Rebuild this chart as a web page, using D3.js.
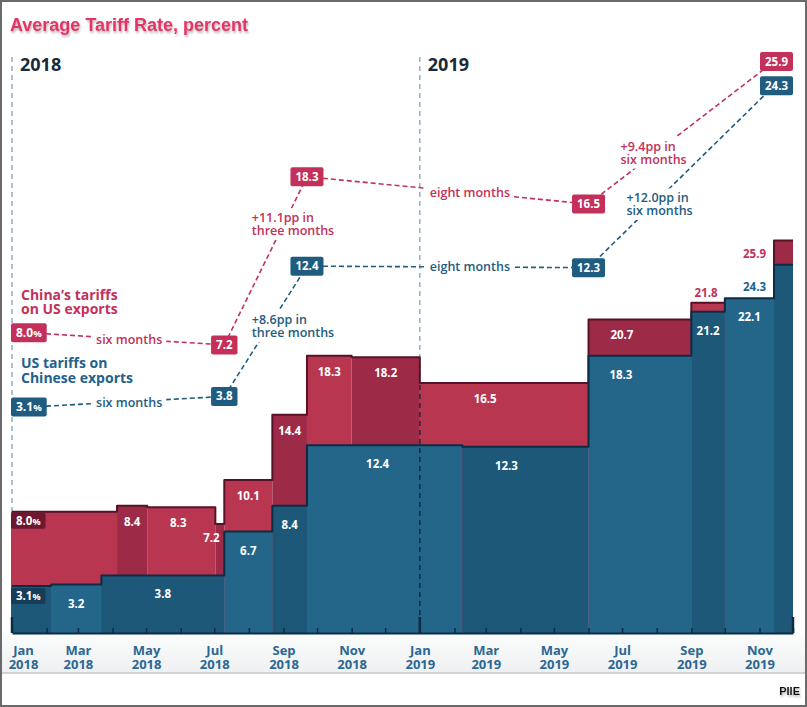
<!DOCTYPE html>
<html lang="en">
<head>
    <meta charset="UTF-8">
    <title>Average Tariff Rate</title>
    <script src="https://d3js.org/d3.v7.min.js"></script>
    <style>
        body { margin: 0; background: #fff; }
        svg { display: block; font-family: "Open Sans", sans-serif; }
    </style>
</head>
<body>

<svg width="807" height="707"></svg>

<script>

    // data: step changes in average tariff rates (percent)
    var usDates = ["2018-01-01", "2018-02-05", "2018-03-22", "2018-07-10", "2018-08-22", "2018-09-22",
                   "2019-02-08", "2019-06-01", "2019-09-01", "2019-10-01", "2019-11-14"];
    var usRates = [3.1, 3.2, 3.8, 6.7, 8.4, 12.4, 12.3, 18.3, 21.2, 22.1, 24.3];

    var cnDates = ["2018-01-01", "2018-04-05", "2018-05-02", "2018-07-02", "2018-07-10", "2018-08-22",
                   "2018-09-22", "2018-11-01", "2019-01-01", "2019-06-01", "2019-09-01", "2019-11-14"];
    var cnRates = [8.0, 8.4, 8.3, 7.2, 10.1, 14.4, 18.3, 18.2, 16.5, 20.7, 21.8, 25.9];

    var endDate = "2019-12-01";

    // summary (top) annotations
    var sumDates = ["2018-01-01", "2018-07-10", "2018-09-22", "2019-06-01", "2019-11-14"];
    var cnSum = [8.0, 7.2, 18.3, 16.5, 25.9];
    var usSum = [3.1, 3.8, 12.4, 12.3, 24.3];
    var cnSumNotes = ["six months", "+11.1pp in|three months", "eight months", "+9.4pp in|six months"];
    var usSumNotes = ["six months", "+8.6pp in|three months", "eight months", "+12.0pp in|six months"];

    var yearLabels = ["2018", "2019"];

    // colours
    var redLight = "#b8364f", redDark = "#9d2b48", redLine = "#561327", redText = "#c3315a";
    var blueLight = "#246689", blueDark = "#1d5879", blueLine = "#0d2c44", blueText = "#22618c";

    var svg = d3.select("svg");
    var parse = d3.timeParse("%Y-%m-%d");

    var x = d3.scaleTime()
        .domain([parse("2018-01-01"), parse(endDate)])
        .range([12, 793]);
    var y = d3.scaleLinear().domain([0, 26]).range([633, 633 - 26 * 15.15]);
    var yTop = d3.scaleLinear().domain([0, 26]).range([454, 454 - 26 * 15.15]);

    var defs = svg.append("defs");
    var sh = defs.append("filter").attr("id", "shadow").attr("x", "-5%").attr("y", "-30%").attr("width", "110%").attr("height", "170%");
    sh.append("feDropShadow").attr("dx", 1).attr("dy", 2).attr("stdDeviation", 1.2)
        .attr("flood-color", "#777").attr("flood-opacity", 0.55);
    var gr = defs.append("linearGradient").attr("id", "band").attr("x1", 0).attr("y1", 0).attr("x2", 0).attr("y2", 1);
    gr.append("stop").attr("offset", "0%").attr("stop-color", "#fbfcfc");
    gr.append("stop").attr("offset", "100%").attr("stop-color", "#eef0f1");

    //outer frame
    svg.append("rect").attr("x", 1).attr("y", 1).attr("width", 805).attr("height", 705)
        .attr("fill", "#fff").attr("stroke", "#6a6a6a").attr("stroke-width", 2);

    // axis label band
    svg.append("rect").attr("x", 2).attr("y", 634).attr("width", 803).attr("height", 39)
        .attr("fill", "url(#band)");
    svg.append("line").attr("x1", 2).attr("x2", 805).attr("y1", 673).attr("y2", 673)
        .attr("stroke", "#c4c6c8").attr("stroke-width", 1.5);

    // title
    svg.append("text").attr("x", 10).attr("y", 31)
        .attr("font-family", "'Liberation Sans', Arial, sans-serif")
        .attr("font-size", 18).attr("font-weight", 700).attr("fill", "#e63366")
        .attr("filter", "url(#shadow)")
        .text("Average Tariff Rate, percent");

    // year dividers
    var yearStarts = [parse("2018-01-01"), parse("2019-01-01")];
    svg.append("g").selectAll("line").data(yearStarts).enter().append("line")
        .attr("x1", function (d) { return x(d); })
        .attr("x2", function (d) { return x(d); })
        .attr("y1", 57).attr("y2", 633)
        .attr("stroke", "#8fb0c6").attr("stroke-width", 1.5).attr("stroke-dasharray", "5,4");
    svg.append("g").selectAll("text").data(yearStarts).enter().append("text")
        .attr("x", function (d) { return x(d) + 8; })
        .attr("y", 71)
        .attr("font-size", 18).attr("font-weight", 700).attr("fill", "#1b2a3a")
        .text(function (d, i) { return yearLabels[i]; });

    // step segments
    function segments(dates, rates) {
        return rates.map(function (v, i) {
            return {
                v: v, i: i,
                x0: x(parse(dates[i])),
                x1: x(parse(i + 1 < dates.length ? dates[i + 1] : endDate))
            };
        });
    }
    var cnSeg = segments(cnDates, cnRates);
    var usSeg = segments(usDates, usRates);

    // US rate in force at a pixel position
    function usAt(px) {
        var r = usSeg[0].v;
        usSeg.forEach(function (s) { if (s.x0 <= px + 0.5) r = s.v; });
        return r;
    }

    var stepLine = d3.line().curve(d3.curveStepAfter)
        .x(function (d) { return d[0]; })
        .y(function (d) { return d[1]; });

    function outline(segs) {
        var pts = segs.map(function (s) { return [s.x0, y(s.v)]; });
        var last = segs[segs.length - 1];
        pts.push([last.x1, y(last.v)]);
        return pts;
    }

    var bars = svg.append("g");

    // China (drawn behind)
    bars.append("g").selectAll("rect").data(cnSeg).enter().append("rect")
        .attr("x", function (d) { return d.x0 - (d.i === 0 ? 1 : 0); })
        .attr("width", function (d) { return d.x1 - d.x0 + (d.i === 0 ? 1 : 0); })
        .attr("y", function (d) { return y(d.v); })
        .attr("height", function (d) { return y(0) - y(d.v); })
        .attr("fill", function (d) { return d.i % 2 ? redDark : redLight; });
    bars.append("path").attr("d", stepLine(outline(cnSeg)))
        .attr("fill", "none").attr("stroke", redLine).attr("stroke-width", 2).attr("stroke-linejoin", "round");

    // US (drawn in front)
    bars.append("g").selectAll("rect").data(usSeg).enter().append("rect")
        .attr("x", function (d) { return d.x0 - (d.i === 0 ? 1 : 0); })
        .attr("width", function (d) { return d.x1 - d.x0 + (d.i === 0 ? 1 : 0); })
        .attr("y", function (d) { return y(d.v); })
        .attr("height", function (d) { return y(0) - y(d.v); })
        .attr("fill", function (d) { return d.i % 2 ? blueLight : blueDark; });
    bars.append("path").attr("d", stepLine(outline(usSeg)))
        .attr("fill", "none").attr("stroke", blueLine).attr("stroke-width", 2).attr("stroke-linejoin", "round");

    // dark dashed year line over the bars
    svg.append("line")
        .attr("x1", x(yearStarts[1])).attr("x2", x(yearStarts[1]))
        .attr("y1", y(16.5) + 2).attr("y2", 633)
        .attr("stroke", "#0f2d44").attr("stroke-width", 1.5).attr("stroke-dasharray", "5,4");

    // axes: month ticks pointing up, labels every two months
    var tickAxis = svg.append("g").attr("transform", "translate(0,633)")
        .call(d3.axisTop(x).ticks(d3.timeMonth.every(1)).tickSize(5).tickSizeOuter(0));
    tickAxis.selectAll(".tick text").remove();
    tickAxis.select(".domain").attr("stroke", blueLine).attr("stroke-width", 2);
    tickAxis.selectAll(".tick line").attr("stroke", blueLine).attr("stroke-width", 1.5);

    svg.append("g").selectAll("line")
        .data([parse("2018-01-01"), parse("2019-01-01"), parse(endDate)])
        .enter().append("line")
        .attr("x1", function (d) { return x(d); }).attr("x2", function (d) { return x(d); })
        .attr("y1", 617).attr("y2", 633)
        .attr("stroke", blueLine).attr("stroke-width", 2.5);

    var labAxis = svg.append("g").attr("transform", "translate(0,633)")
        .call(d3.axisBottom(x).ticks(d3.timeMonth.every(2)).tickSize(0));
    labAxis.select(".domain").remove();
    labAxis.selectAll(".tick text").remove();
    var fmtM = d3.timeFormat("%b"), fmtY = d3.timeFormat("%Y");
    labAxis.selectAll(".tick").each(function (d) {
        var px = x(d);
        var dx = px - 15 < 8 ? 8 + 15 - px : 0;
        var t = d3.select(this).append("text")
            .attr("fill", "#2b6793").attr("font-size", 13).attr("font-weight", 700)
            .attr("text-anchor", "middle").attr("font-family", "'Open Sans', sans-serif");
        t.append("tspan").attr("x", dx).attr("y", 22).text(fmtM(d));
        t.append("tspan").attr("x", dx).attr("y", 36).text(fmtY(d));
    });

    // helpers for labels
    function addText(g, txt, size, weight, fill) {
        var t = g.append("text").attr("font-size", size).attr("font-weight", weight)
            .attr("fill", fill).attr("dy", "0.35em");
        if (txt.slice(-1) === "%") {
            t.append("tspan").text(txt.slice(0, -1));
            t.append("tspan").attr("font-size", size - 2.5).text("%");
        } else {
            t.text(txt);
        }
        return t;
    }

    function boxLabel(g, cx, cy, txt, fill, align, h, size) {
        var grp = g.append("g");
        var rect = grp.append("rect").attr("fill", fill).attr("rx", 2);
        var t = addText(grp, txt, size || 11.5, 700, "#fff").attr("text-anchor", "middle");
        var w = t.node().getComputedTextLength() + 10;
        h = h || 19;
        var bx = cx - w / 2;
        if (align === "start") bx = cx;
        if (align === "end") bx = cx - w;
        rect.attr("x", bx).attr("y", cy - h / 2).attr("width", w).attr("height", h);
        t.attr("x", bx + w / 2).attr("y", cy);
    }

    // bar value labels
    var labels = svg.append("g");
    var cnShift = {2: -3, 8: -19, 9: -18};
    var usShift = {5: -7, 6: -19, 7: -19};

    cnSeg.forEach(function (s) {
        var cx = (s.x0 + s.x1) / 2 + (cnShift[s.i] || 0);
        var cy = y(s.v) + 16;
        var visible = y(usAt(s.x0)) - y(s.v);
        if (s.i === 0) {
            boxLabel(labels, s.x0 - 1, y(s.v) + 9, s.v.toFixed(1) + "%", "#6b1830", "start", 16);
        } else if (s.x1 - s.x0 < 15) {
            // too narrow: label sits to the left
            addText(labels, s.v.toFixed(1), 11.5, 700, "#fff").attr("text-anchor", "middle")
                .attr("x", s.x0 - 4).attr("y", y(s.v) + 14);
        } else if (s.i === cnSeg.length - 1) {
            addText(labels, s.v.toFixed(1), 11.5, 700, redText).attr("text-anchor", "end")
                .attr("x", s.x0 - 8).attr("y", y(s.v) + 13);
        } else if (visible < 16) {
            // thin strip: label above, over the part still visible
            var vEnd = s.x1;
            usSeg.forEach(function (u) { if (u.x0 > s.x0 && u.v >= s.v && u.x0 < vEnd) vEnd = u.x0; });
            addText(labels, s.v.toFixed(1), 11.5, 700, redText).attr("text-anchor", "middle")
                .attr("x", (s.x0 + vEnd) / 2 - 2).attr("y", y(s.v) - 10);
        } else {
            addText(labels, s.v.toFixed(1), 11.5, 700, "#fff").attr("text-anchor", "middle")
                .attr("x", cx).attr("y", cy);
        }
    });

    usSeg.forEach(function (s) {
        var cx = (s.x0 + s.x1) / 2 + (usShift[s.i] || 0);
        var cy = y(s.v) + 19;
        if (s.i === 0) {
            boxLabel(labels, s.x0 - 1, y(s.v) + 10, s.v.toFixed(1) + "%", "#163d57", "start", 16);
        } else if (s.i === usSeg.length - 1) {
            addText(labels, s.v.toFixed(1), 11.5, 700, blueText).attr("text-anchor", "end")
                .attr("x", s.x0 - 8).attr("y", y(s.v) + 22);
        } else {
            addText(labels, s.v.toFixed(1), 11.5, 700, "#fff").attr("text-anchor", "middle")
                .attr("x", cx).attr("y", cy);
        }
    });

    // summary annotations
    var diagDx = {cn: {1: 27.5, 3: 32}, us: {1: 27.5, 3: 38}};
    var diagT = {cn: {1: 0.72, 3: 0.36}, us: {1: 0.54, 3: 0.35}};

    function summary(vals, notes, color, key) {
        var g = svg.append("g");
        var pts = vals.map(function (v, i) { return [x(parse(sumDates[i])), yTop(v)]; });
        var lineG = g.append("g");
        var noteG = g.append("g");
        var boxG = g.append("g");
        for (var i = 0; i < pts.length - 1; i++) {
            var a = pts[i], b = pts[i + 1];
            var ax0 = i === 0 ? a[0] + 18 : a[0];
            lineG.append("line").attr("x1", ax0).attr("y1", a[1]).attr("x2", b[0]).attr("y2", b[1])
                .attr("stroke", color).attr("stroke-width", 1.6).attr("stroke-dasharray", "5,3");

            var parts = notes[i].split("|");
            var nx, ny, anchor;
            if (parts.length === 1 && i === 0) {
                nx = (ax0 + b[0]) / 2 + 2; ny = (a[1] + b[1]) / 2 + 1; anchor = "middle";
            } else if (parts.length === 1) {
                nx = x(yearStarts[1]) + 10; ny = a[1] + (b[1] - a[1]) * (nx + 38 - a[0]) / (b[0] - a[0]); anchor = "start";
            } else {
                nx = a[0] + diagDx[key][i];
                ny = a[1] + (b[1] - a[1]) * diagT[key][i] - 6;
                anchor = "start";
            }
            var tg = noteG.append("g");
            var bg = tg.append("rect").attr("fill", "#fff");
            var tt = tg.append("text").attr("font-size", 12.5).attr("font-weight", 600)
                .attr("fill", color).attr("text-anchor", anchor);
            parts.forEach(function (p, k) {
                tt.append("tspan").attr("x", nx).attr("y", ny + k * 12.5).attr("dy", "0.35em").text(p);
            });
            var bb = tt.node().getBBox();
            bg.attr("x", bb.x - 4).attr("y", bb.y - 1).attr("width", bb.width + 8).attr("height", bb.height + 2);
        }
        pts.forEach(function (p, i) {
            var align = i === 0 ? "start" : (i === pts.length - 1 ? "end" : "middle");
            var px = i === 0 ? p[0] - 1 : (i === pts.length - 1 ? x(parse(endDate)) : p[0]);
            boxLabel(boxG, px, p[1], vals[i].toFixed(1) + (i === 0 ? "%" : ""), color, align, 19, i === 0 ? 12 : 11.5);
        });
    }

    summary(cnSum, cnSumNotes, redText, "cn");
    summary(usSum, usSumNotes, "#1f5c80", "us");

    // legend
    var legend = svg.append("g").attr("font-size", 14).attr("font-weight", 700);
    legend.append("text").attr("x", 21).attr("y", 300).attr("fill", redText)
        .selectAll("tspan").data(["China\u2019s tariffs", "on US exports"]).enter().append("tspan")
        .attr("x", 21).attr("dy", function (d, i) { return i ? 14 : 0; }).text(function (d) { return d; });
    legend.append("text").attr("x", 21).attr("y", 368).attr("fill", blueText)
        .selectAll("tspan").data(["US tariffs on", "Chinese exports"]).enter().append("tspan")
        .attr("x", 21).attr("dy", function (d, i) { return i ? 14.5 : 0; }).text(function (d) { return d; });

    // source mark
    svg.append("text").attr("x", 800).attr("y", 695).attr("text-anchor", "end")
        .attr("font-family", "'Liberation Sans', Arial, sans-serif")
        .attr("font-size", 11).attr("font-weight", 700).attr("fill", "#111")
        .attr("filter", "url(#shadow)")
        .text("PIIE");

</script>

</body>
</html>
